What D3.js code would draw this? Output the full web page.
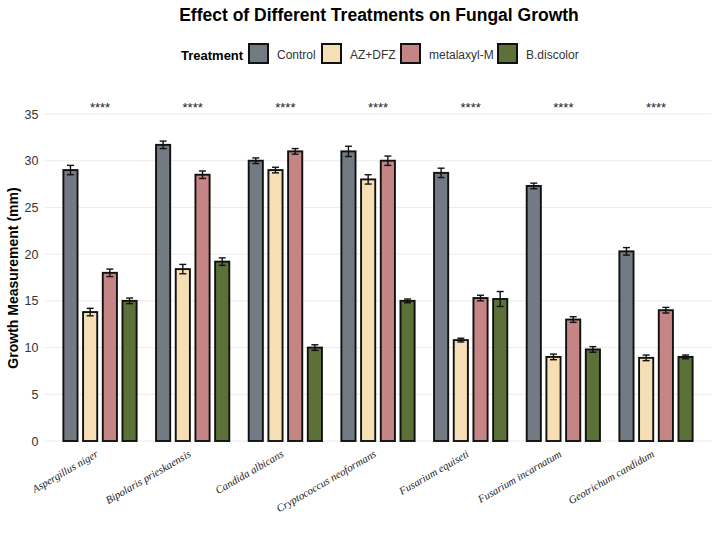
<!DOCTYPE html>
<html>
<head>
<meta charset="utf-8">
<script src="https://cdn.jsdelivr.net/npm/d3@7"></script>
<style>
  body { margin: 0; background: #fff; }
  svg { font-family: "Liberation Sans", Arial, sans-serif; }
</style>
</head>
<body>
<svg width="720" height="540"></svg>
<script>
const fungi = ['Aspergillus niger', 'Bipolaris prieskaensis', 'Candida albicans',
  'Cryptococcus neoformans', 'Fusarium equiseti', 'Fusarium incarnatum', 'Geotrichum candidum'];
const treatments = ['Control', 'AZ+DFZ', 'metalaxyl-M', 'B.discolor'];
const colors = ['#727a83', '#f6dfb5', '#c48584', '#5b7138'];

// mean values per treatment, in fungi order
const control   = [29.0, 31.7, 30.0, 31.0, 28.7, 27.3, 20.3];
const azdfz     = [13.8, 18.4, 29.0, 28.0, 10.8, 9.0, 8.9];
const metalaxyl = [18.0, 28.5, 31.0, 30.0, 15.3, 13.0, 14.0];
const discolor  = [15.0, 19.2, 10.0, 15.0, 15.2, 9.8, 9.0];

// standard errors
const controlErr   = [0.5, 0.4, 0.3, 0.55, 0.5, 0.3, 0.4];
const azdfzErr     = [0.4, 0.5, 0.3, 0.5, 0.2, 0.3, 0.3];
const metalaxylErr = [0.4, 0.4, 0.3, 0.5, 0.3, 0.3, 0.3];
const discolorErr  = [0.3, 0.4, 0.3, 0.2, 0.8, 0.3, 0.2];

const signif = ['****', '****', '****', '****', '****', '****', '****'];
const yTicks = [0, 5, 10, 15, 20, 25, 30, 35];

const series = [control, azdfz, metalaxyl, discolor];
const errs = [controlErr, azdfzErr, metalaxylErr, discolorErr];

const rows = [];
fungi.forEach((f, i) => {
  treatments.forEach((t, j) => {
    rows.push({fungus: f, treatment: t, value: series[j][i], se: errs[j][i]});
  });
});

const svg = d3.select('svg');

const x = d3.scaleBand()
  .domain(fungi)
  .range([44.4, 711.6])
  .paddingInner(0)
  .paddingOuter(0.1);

const x1 = d3.scaleBand()
  .domain(treatments)
  .range([-39.4, 39.4])
  .paddingInner(0.19)
  .paddingOuter(0.095);

const y = d3.scaleLinear()
  .domain([0, 35])
  .range([441, 114]);

const color = d3.scaleOrdinal().domain(treatments).range(colors);

// gridlines
svg.append('g')
  .selectAll('line')
  .data(yTicks)
  .join('line')
  .attr('x1', 44.4)
  .attr('x2', 711.6)
  .attr('y1', d => y(d))
  .attr('y2', d => y(d))
  .attr('stroke', '#ebebeb')
  .attr('stroke-width', 1);

// y axis
const yAxis = svg.append('g')
  .attr('transform', 'translate(44.4,0)')
  .call(d3.axisLeft(y).tickValues(yTicks).tickSize(0).tickPadding(6));
yAxis.select('.domain').remove();
yAxis.selectAll('text')
  .attr('font-size', 12.5)
  .attr('fill', '#333');

svg.append('text')
  .attr('transform', 'translate(18,278) rotate(-90)')
  .attr('text-anchor', 'middle')
  .attr('font-size', 14)
  .attr('font-weight', 'bold')
  .text('Growth Measurement (mm)');

// x axis labels
const xAxis = svg.append('g')
  .attr('transform', 'translate(0,441)')
  .call(d3.axisBottom(x).tickSize(0).tickPadding(0));
xAxis.select('.domain').remove();
xAxis.selectAll('text')
  .attr('font-family', '"Liberation Serif", "Times New Roman", serif')
  .attr('font-style', 'italic')
  .attr('font-size', 10.8)
  .attr('fill', '#222')
  .attr('text-anchor', 'end')
  .attr('dy', 0)
  .attr('transform', 'translate(-1,15) rotate(-30)');

// bars
const groups = svg.append('g')
  .selectAll('g')
  .data(fungi)
  .join('g')
  .attr('transform', d => `translate(${x(d) + x.bandwidth() / 2},0)`);

const bw = x1.bandwidth();

groups.selectAll('rect')
  .data(f => rows.filter(r => r.fungus === f))
  .join('rect')
  .attr('x', d => x1(d.treatment) + 0.9)
  .attr('y', d => y(d.value))
  .attr('width', bw - 1.8)
  .attr('height', d => y(0) - y(d.value))
  .attr('fill', d => color(d.treatment))
  .attr('stroke', '#111')
  .attr('stroke-width', 1.9);

// error bars
const eb = groups.selectAll('g.err')
  .data(f => rows.filter(r => r.fungus === f))
  .join('g')
  .attr('class', 'err')
  .attr('transform', d => `translate(${x1(d.treatment) + bw / 2},0)`)
  .attr('stroke', '#111')
  .attr('stroke-width', 1.4);
eb.append('line')
  .attr('y1', d => y(d.value - d.se))
  .attr('y2', d => y(d.value + d.se));
eb.append('line')
  .attr('x1', -3.5).attr('x2', 3.5)
  .attr('y1', d => y(d.value - d.se))
  .attr('y2', d => y(d.value - d.se));
eb.append('line')
  .attr('x1', -3.5).attr('x2', 3.5)
  .attr('y1', d => y(d.value + d.se))
  .attr('y2', d => y(d.value + d.se));

// significance labels
svg.append('g')
  .selectAll('text')
  .data(fungi)
  .join('text')
  .attr('x', d => x(d) + x.bandwidth() / 2)
  .attr('y', 112)
  .attr('text-anchor', 'middle')
  .attr('font-size', 13)
  .attr('fill', '#222')
  .text((d, i) => signif[i]);

// title
svg.append('text')
  .attr('x', 379)
  .attr('y', 21)
  .attr('text-anchor', 'middle')
  .attr('font-size', 17.5)
  .attr('font-weight', 'bold')
  .text('Effect of Different Treatments on Fungal Growth');

// legend
const legend = svg.append('g');
legend.append('text')
  .attr('x', 181)
  .attr('y', 59.5)
  .attr('font-size', 13)
  .attr('font-weight', 'bold')
  .text('Treatment');

const keyX = [248, 321, 400, 497];
const items = legend.selectAll('g.key')
  .data(treatments)
  .join('g')
  .attr('class', 'key')
  .attr('transform', (d, i) => `translate(${keyX[i]},43)`);
items.append('rect')
  .attr('x', 1).attr('y', 1)
  .attr('width', 19).attr('height', 19)
  .attr('fill', d => color(d))
  .attr('stroke', '#111')
  .attr('stroke-width', 2);
items.append('text')
  .attr('x', 29)
  .attr('y', 16)
  .attr('font-size', 12)
  .attr('fill', '#333')
  .text(d => d);
</script>
</body>
</html>
